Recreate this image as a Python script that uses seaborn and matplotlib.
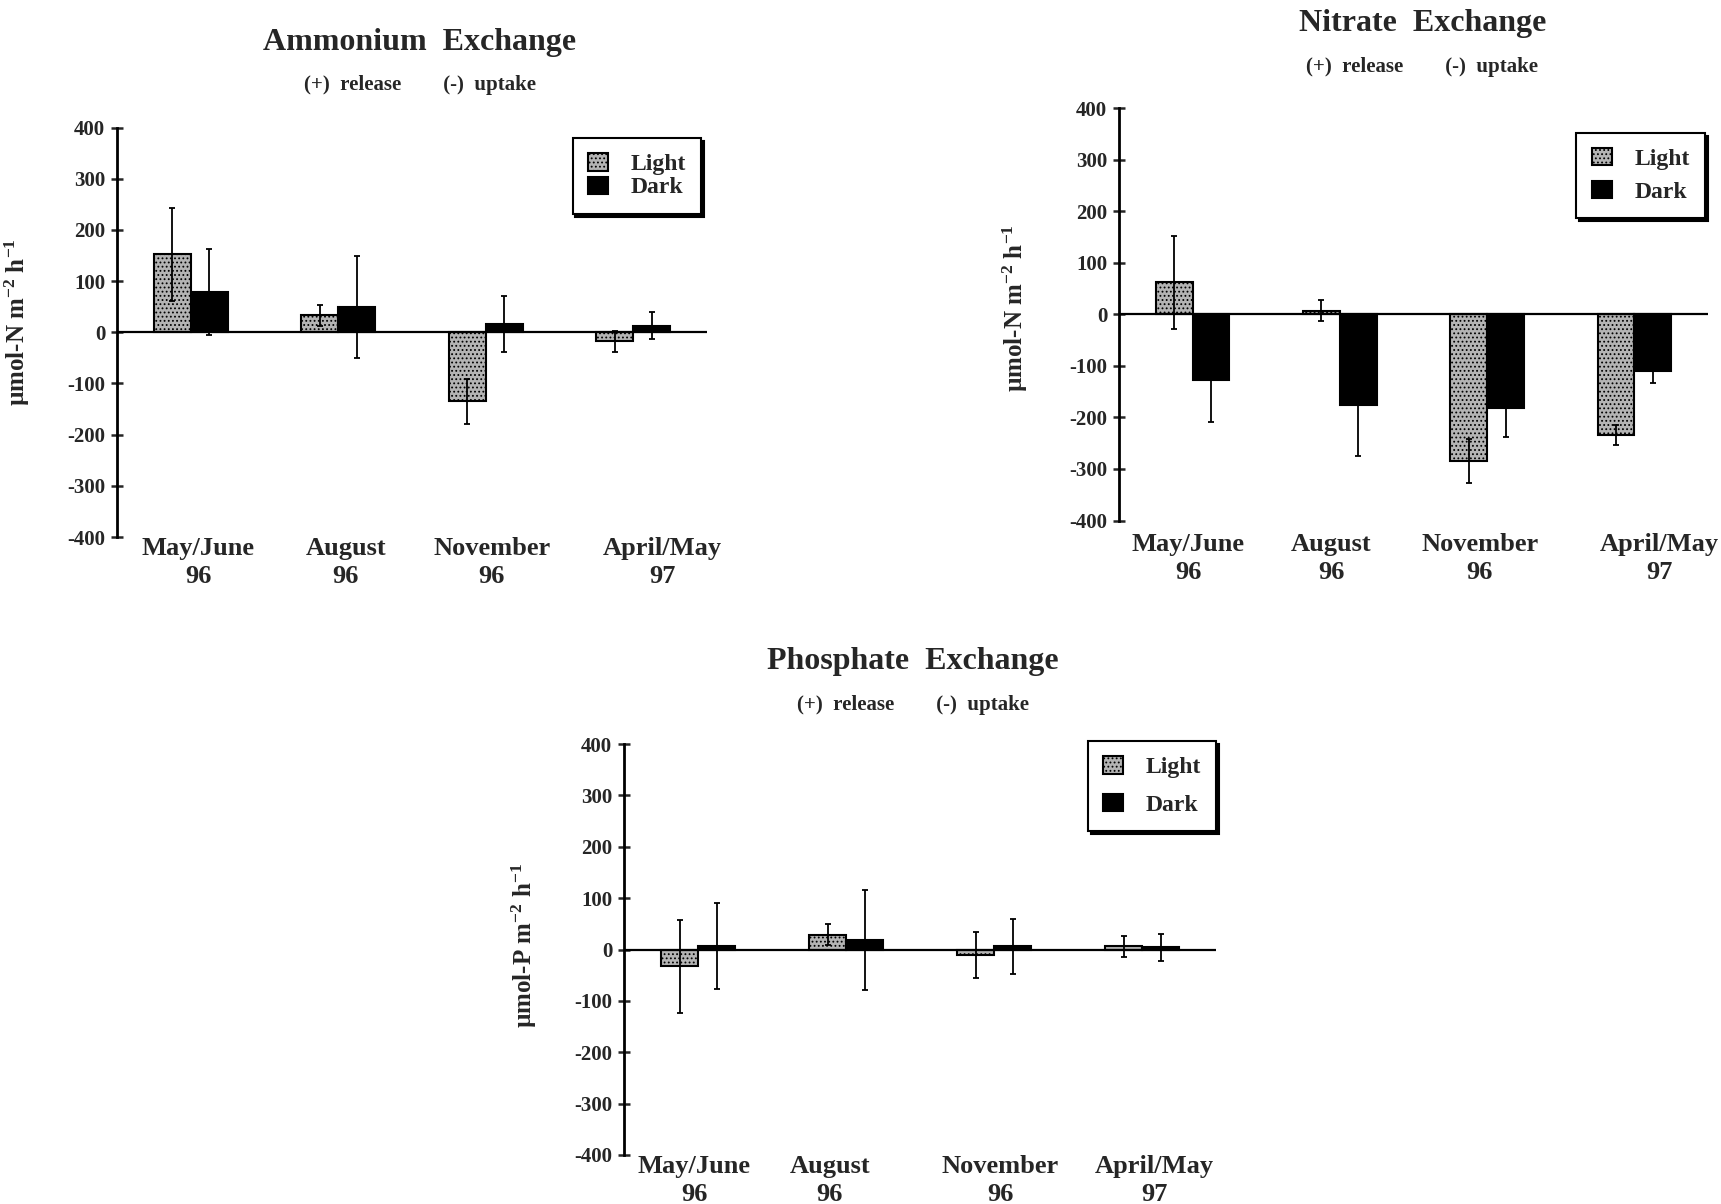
import numpy as np
import pandas as pd
import matplotlib
matplotlib.use("Agg")
import matplotlib.pyplot as plt
import seaborn as sns

# ---------------- data ----------------
categories = ["May/June\n96", "August\n96", "November\n96", "April/May\n97"]
conditions = ["Light", "Dark"]

ammonium_light = [152, 33, -135, -18]
ammonium_light_err = [90, 20, 44, 21]
ammonium_dark = [79, 49, 16, 13]
ammonium_dark_err = [84, 99, 55, 26]

nitrate_light = [62, 7, -285, -234]
nitrate_light_err = [90, 20, 43, 20]
nitrate_dark = [-127, -175, -182, -110]
nitrate_dark_err = [82, 99, 56, 24]

phosphate_light = [-33, 29, -11, 6]
phosphate_light_err = [90, 20, 45, 21]
phosphate_dark = [7, 18, 6, 4]
phosphate_dark_err = [83, 97, 54, 26]

yticks = [-400, -300, -200, -100, 0, 100, 200, 300, 400]

titles = ["Ammonium  Exchange", "Nitrate  Exchange", "Phosphate  Exchange"]
subtitle = "(+)  release        (-)  uptake"
ylabels = ["µmol-N m$^{-2}$ h$^{-1}$", "µmol-N m$^{-2}$ h$^{-1}$",
           "µmol-P m$^{-2}$ h$^{-1}$"]

# ---------------- style ----------------
sns.set_theme(style="white")
plt.rcParams["font.family"] = ["Liberation Serif", "DejaVu Serif"]
plt.rcParams["font.weight"] = "bold"
plt.rcParams["mathtext.fontset"] = "custom"
plt.rcParams["mathtext.rm"] = "Liberation Serif:bold"
plt.rcParams["mathtext.it"] = "Liberation Serif:bold"
plt.rcParams["mathtext.bf"] = "Liberation Serif:bold"
plt.rcParams["hatch.linewidth"] = 0.8

LIGHT = "#b4b4b4"
DARK = "#000000"

fig = plt.figure(figsize=(17.21, 12.04), dpi=100)
W, H = 1721, 1204

panels = [
    dict(box=(117, 127.5, 707, 537), light=ammonium_light, lerr=ammonium_light_err,
         dark=ammonium_dark, derr=ammonium_dark_err,
         leg=(0.990, 0.974), legspace=0.05, xpad=0,
         shift=[0.05, 0.05, 0.04, 0.2], ylab=(-0.144, 0.526),
         title_dy=85.5, sub_dy=42.5, title_dx=8),
    dict(box=(1119, 108.3, 1708, 520.5), light=nitrate_light, lerr=nitrate_light_err,
         dark=nitrate_dark, derr=nitrate_dark_err,
         leg=(0.995, 0.9405), legspace=0.45, xpad=9,
         shift=[-0.03, -0.06, -0.05, 0.17], ylab=(-0.1505, 0.516),
         title_dy=84.6, sub_dy=41.3, title_dx=9),
    dict(box=(624, 744, 1216.4, 1155), light=phosphate_light, lerr=phosphate_light_err,
         dark=phosphate_dark, derr=phosphate_dark_err,
         leg=(1.0, 1.007), legspace=0.66, xpad=0,
         shift=[-0.025, -0.11, 0.04, 0.08], ylab=(-0.1437, 0.511),
         title_dy=83, sub_dy=39, title_dx=-7),
]

for i, p in enumerate(panels):
    x0, y0, x1, y1 = p["box"]
    aw, ah = x1 - x0, y1 - y0
    ax = fig.add_axes([x0 / W, 1 - y1 / H, aw / W, ah / H])
    df = pd.DataFrame({
        "category": categories * 2,
        "condition": ["Light"] * 4 + ["Dark"] * 4,
        "value": list(p["light"]) + list(p["dark"]),
    })
    sns.barplot(data=df, x="category", y="value", hue="condition",
                hue_order=conditions, order=categories,
                palette={"Light": LIGHT, "Dark": DARK},
                width=0.5, errorbar=None, edgecolor="black", linewidth=1.5,
                saturation=1, legend=False, ax=ax)
    for bar in ax.containers[0]:
        bar.set_hatch("....")
    errs = [p["lerr"], p["derr"]]
    vals = [p["light"], p["dark"]]
    for c, cont in enumerate(ax.containers[:2]):
        xs = [b.get_x() + b.get_width() / 2 for b in cont]
        ax.errorbar(xs, vals[c], yerr=errs[c], fmt="none", ecolor="black",
                    elinewidth=1.3, capsize=2.5, capthick=1.3, zorder=4)
    ax.axhline(0, color="black", lw=1.6, zorder=3)
    ax.set_ylim(-400, 400)
    ax.set_xlim(-0.5, 3.5)
    ax.set_yticks(yticks)
    ax.set_yticklabels([str(v) for v in yticks], fontsize=15, fontweight="bold")
    ax.set_xticks(np.arange(4) + np.array(p["shift"]))
    ax.set_xticklabels(categories, fontsize=19, fontweight="bold", linespacing=1.3)
    ax.tick_params(axis="x", length=0, pad=p["xpad"])
    ax.tick_params(axis="y", direction="inout", length=9, width=1.8, pad=4, left=True)
    for s in ["top", "right", "bottom"]:
        ax.spines[s].set_visible(False)
    ax.spines["left"].set_linewidth(2)
    ax.spines["left"].set_color("black")
    ax.set_xlabel("")
    ax.set_ylabel(ylabels[i], fontsize=18, fontweight="bold")
    ax.yaxis.set_label_coords(*p["ylab"])
    ax.set_facecolor("white")

    # titles
    tx = 0.5 + p["title_dx"] / aw
    ax.text(tx, 1 + p["title_dy"] / ah, titles[i], transform=ax.transAxes,
            ha="center", va="center", fontsize=23, fontweight="bold")
    ax.text(tx, 1 + p["sub_dy"] / ah, subtitle, transform=ax.transAxes,
            ha="center", va="center", fontsize=15, fontweight="bold")

    leg = ax.legend(ax.containers[:2], conditions, loc="upper right",
                    bbox_to_anchor=p["leg"], borderaxespad=0, frameon=True,
                    fancybox=False, shadow={"color": "black", "alpha": 1},
                    framealpha=1, edgecolor="black",
                    prop={"weight": "bold", "size": 17},
                    handlelength=0.85, handleheight=0.75, handletextpad=0.95,
                    labelspacing=p["legspace"], borderpad=0.65)
    leg.get_frame().set_linewidth(1.5)

fig.savefig("out.png", dpi=100, facecolor="white")
